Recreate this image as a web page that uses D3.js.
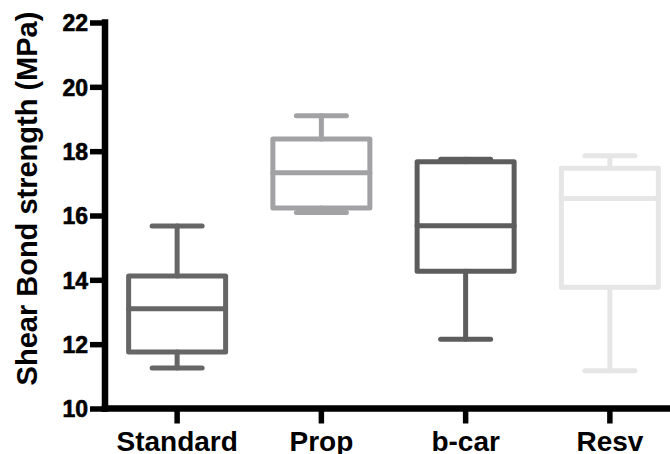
<!DOCTYPE html>
<html>
<head>
<meta charset="utf-8">
<script src="https://cdn.jsdelivr.net/npm/d3@7"></script>
<style>
  html, body { margin: 0; padding: 0; background: #fff; }
  svg { display: block; }
</style>
</head>
<body>
<script>
const categories = ["Standard", "Prop", "b-car", "Resv"];
const mins    = [11.26, 16.09, 12.15, 11.17];
const q1s     = [11.76, 16.23, 14.27, 13.77];
const medians = [13.10, 17.33, 15.68, 16.53];
const q3s     = [14.12, 18.38, 17.67, 17.47];
const maxs    = [15.67, 19.10, 17.75, 17.86];
const colors  = ["#666666", "#a2a2a5", "#5d5d5d", "#e6e6e6"];
const yTicks  = [10, 12, 14, 16, 18, 20, 22];
const yTitle  = "Shear Bond strength (MPa)";

const FONT = '"Liberation Sans", Arial, Helvetica, sans-serif';
const W = 670, H = 454;
const svg = d3.select("body").append("svg").attr("width", W).attr("height", H);

const axisX = 105, axisY = 408.5, topY = 22.5, AW = 6.5;
const y = d3.scaleLinear().domain([10, 22]).range([axisY, topY]);
const x = d3.scaleBand().domain(categories).range([axisX, 682]).padding(0);

const boxHalf = 48.5, capHalf = 25, sw = 5;
const g = svg.append("g");
categories.forEach((c, i) => {
  const cx = x(c) + x.bandwidth() / 2;
  const grp = g.append("g")
    .attr("stroke", colors[i]).attr("stroke-width", sw)
    .attr("fill", "none").attr("stroke-linecap", "round").attr("stroke-linejoin", "round");
  grp.append("line").attr("x1", cx).attr("x2", cx).attr("y1", y(maxs[i])).attr("y2", y(q3s[i]));
  grp.append("line").attr("x1", cx).attr("x2", cx).attr("y1", y(q1s[i])).attr("y2", y(mins[i]));
  grp.append("line").attr("x1", cx - capHalf).attr("x2", cx + capHalf).attr("y1", y(maxs[i])).attr("y2", y(maxs[i]));
  grp.append("line").attr("x1", cx - capHalf).attr("x2", cx + capHalf).attr("y1", y(mins[i])).attr("y2", y(mins[i]));
  grp.append("rect").attr("x", cx - boxHalf).attr("width", boxHalf * 2)
    .attr("y", y(q3s[i])).attr("height", y(q1s[i]) - y(q3s[i]));
  grp.append("line").attr("x1", cx - boxHalf).attr("x2", cx + boxHalf)
    .attr("y1", y(medians[i])).attr("y2", y(medians[i]));
});

const yAxis = svg.append("g").attr("transform", `translate(${axisX},0)`)
  .call(d3.axisLeft(y).tickValues(yTicks).tickFormat(d3.format("d")).tickSize(15).tickSizeOuter(0).tickPadding(2));
yAxis.select(".domain").attr("stroke", "#000").attr("stroke-width", AW)
  .attr("d", `M0,${topY - AW / 2}V${axisY + AW / 2}`);
yAxis.selectAll(".tick line").attr("stroke", "#000").attr("stroke-width", 5.5);
yAxis.selectAll(".tick text").attr("font-size", 23).attr("font-weight", "bold").attr("font-family", FONT)
  .attr("fill", "#000").attr("stroke", "#000").attr("stroke-width", 0.6).attr("dy", "0.36em");

const xAxis = svg.append("g").attr("transform", `translate(0,${axisY})`)
  .call(d3.axisBottom(x).tickSize(15).tickSizeOuter(0));
xAxis.select(".domain").attr("stroke", "#000").attr("stroke-width", AW)
  .attr("d", `M${axisX - AW / 2},0H${W}`);
xAxis.selectAll(".tick line").attr("stroke", "#000").attr("stroke-width", 5.5);
xAxis.selectAll(".tick text").attr("font-size", 28).attr("font-weight", "bold").attr("font-family", FONT).attr("fill", "#000")
  .attr("y", 42).attr("dy", "0");

svg.append("text")
  .attr("transform", "rotate(-90)")
  .attr("x", -198.5).attr("y", 36.5)
  .attr("text-anchor", "middle")
  .attr("font-family", FONT).attr("font-weight", "bold").attr("font-size", 29)
  .attr("fill", "#000")
  .text(yTitle);
</script>
</body>
</html>
